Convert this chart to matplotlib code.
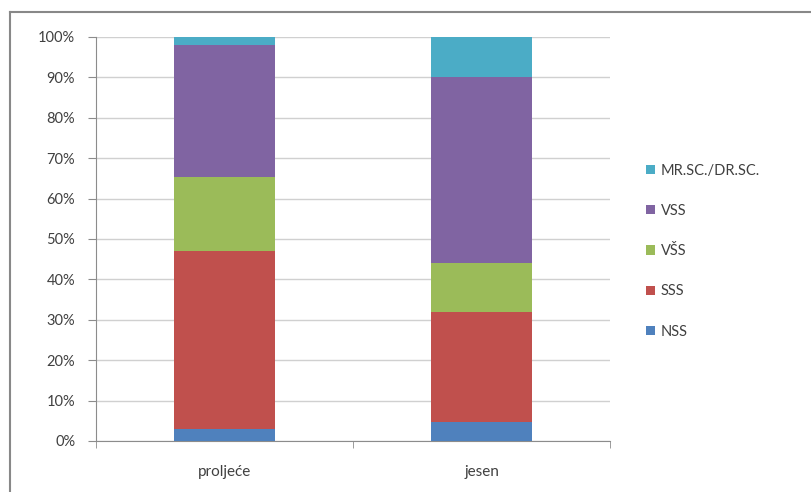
import matplotlib.pyplot as plt
import numpy as np
from matplotlib.lines import Line2D

# data (percent shares)
categories = ['proljeće', 'jesen']
series = ['NSS', 'SSS', 'VŠS', 'VSS', 'MR.SC./DR.SC.']
nss = [3.0, 4.7]
sss = [44.0, 27.3]
vss_ = [18.3, 12.0]   # VŠS
vss = [32.7, 46.0]    # VSS
mr = [2.0, 10.0]
colors = ['#4F81BD', '#C0504D', '#9BBB59', '#8064A2', '#4BACC6']

plt.rcParams['font.family'] = ['Lato', 'DejaVu Sans']

fig = plt.figure(figsize=(8.11, 4.92), dpi=100)
W, H = 811, 492
ax = fig.add_axes([96 / W, 1 - 441 / H, (610 - 96) / W, (441 - 37) / H])

x = np.arange(len(categories))
bottom = np.zeros(len(categories))
bars = []
for name, vals, c in zip(series, [nss, sss, vss_, vss, mr], colors):
    b = ax.bar(x, vals, bottom=bottom, width=0.39, color=c, label=name, zorder=3)
    bars.append(b)
    bottom += np.array(vals)

ax.set_xlim(-0.5, 1.5)
ax.set_ylim(0, 100)
ax.set_yticks(np.arange(0, 101, 10))
ax.set_yticklabels([f'{v}%' for v in range(0, 101, 10)])
ax.set_xticks(x)
ax.set_xticklabels(categories)
ax.set_xticks([-0.5, 0.5, 1.5], minor=True)

ax.yaxis.grid(True, color='#d0d0d0', lw=1, zorder=0)
for s in ['top', 'right']:
    ax.spines[s].set_visible(False)
for s in ['left', 'bottom']:
    ax.spines[s].set_color('#8c8c8c')
ax.tick_params(axis='y', length=6, color='#8c8c8c', labelsize=10.5,
               labelcolor='#404040', pad=9)
ax.tick_params(axis='x', which='major', length=0, labelsize=11,
               labelcolor='#404040', pad=17)
ax.tick_params(axis='x', which='minor', length=5, color='#8c8c8c')

handles = [h for h in bars][::-1]
labels = series[::-1]
leg = ax.legend(handles, labels, loc='center left', bbox_to_anchor=(1.045, 0.47),
                frameon=False, handlelength=0.6, handleheight=0.6,
                handletextpad=0.4, labelspacing=1.8, fontsize=10.5)
for t in leg.get_texts():
    t.set_color('#404040')

# outer chart frame (left and top visible)
fig.add_artist(Line2D([9.5 / W, 9.5 / W], [0, 1 - 12 / H], color='#888888', lw=1.5,
                      transform=fig.transFigure))
fig.add_artist(Line2D([9.5 / W, 1], [1 - 12 / H, 1 - 12 / H], color='#888888', lw=1.5,
                      transform=fig.transFigure))

fig.savefig('out.png', dpi=100)
